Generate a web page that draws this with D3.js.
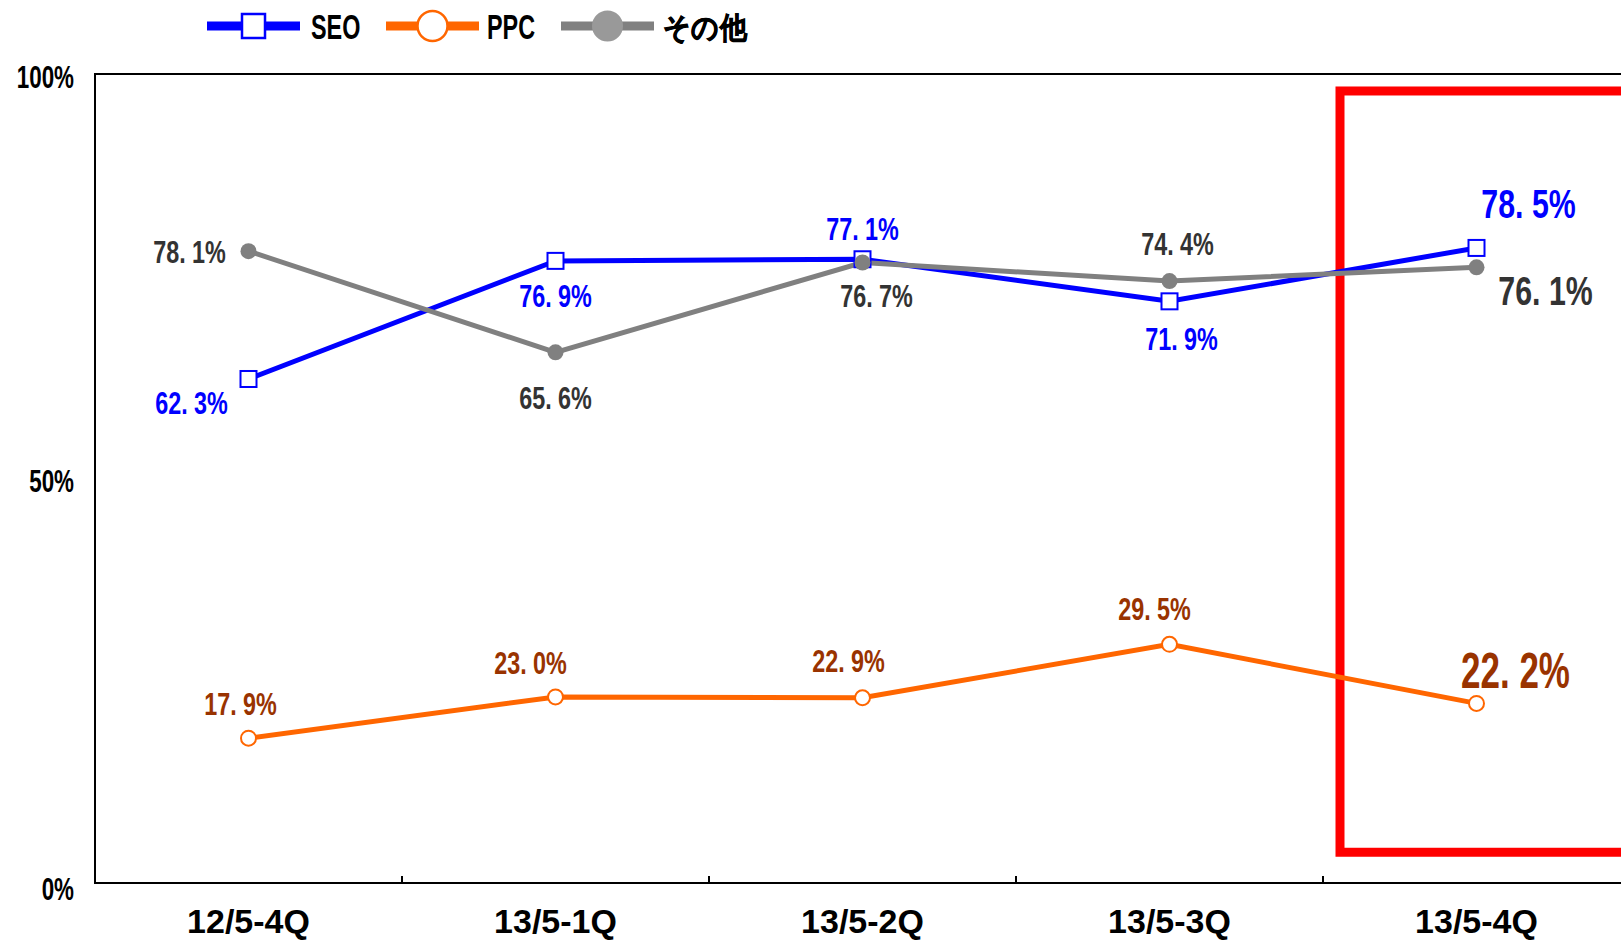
<!DOCTYPE html>
<html>
<head>
<meta charset="utf-8">
<script src="https://cdn.jsdelivr.net/npm/d3@7"></script>
<style>
  html, body { margin: 0; padding: 0; background: #fff; overflow: hidden; }
  text { font-family: "Liberation Sans", Arial, sans-serif; font-weight: bold; }
</style>
</head>
<body>
<div id="chart"></div>
<script>
// data
const categories = ['12/5-4Q', '13/5-1Q', '13/5-2Q', '13/5-3Q', '13/5-4Q'];
const seo = [62.3, 76.9, 77.1, 71.9, 78.5];
const ppc = [17.9, 23.0, 22.9, 29.5, 22.2];
const other = [78.1, 65.6, 76.7, 74.4, 76.1];
const yTicks = [0, 50, 100];
const seriesNames = ['SEO', 'PPC', 'その他'];

// layout
let width = 1621,
    height = 940,
    plotLeft = 95,
    plotTop = 74,
    plotBottom = 883,
    step = 307;

let svg = d3.select('#chart').append('svg')
    .attr('width', width)
    .attr('height', height);

let xScale = d3.scaleBand()
    .domain(categories)
    .range([plotLeft, plotLeft + step * categories.length]);

let yScale = d3.scaleLinear()
    .domain([0, 100])
    .range([plotBottom, plotTop]);

let cx = c => xScale(c) + xScale.bandwidth() / 2;

// text helper: condensed look via horizontal scale
function label(g, x, y, str, size, sx, color, anchor) {
    return g.append('text')
        .attr('transform', `translate(${x},${y}) scale(${sx},1)`)
        .attr('text-anchor', anchor || 'middle')
        .attr('dominant-baseline', 'central')
        .attr('font-size', size)
        .attr('fill', color)
        .text(str);
}

//#region axes
let plotRight = plotLeft + step * categories.length;
svg.append('path')
    .attr('d', `M${plotRight},${plotTop}H${plotLeft}V${plotBottom}H${plotRight}`)
    .attr('fill', 'none')
    .attr('stroke', '#000')
    .attr('stroke-width', 2);

let axisY = d3.axisLeft(yScale).tickValues(yTicks).tickSize(0).tickFormat(d => d + '%');
let gy = svg.append('g').attr('transform', `translate(${plotLeft},0)`).call(axisY);
gy.select('.domain').remove();
gy.selectAll('.tick text').remove();
gy.selectAll('.tick').each(function(d) {
    label(d3.select(this), -21, d === 0 ? 5 : 2, d + '%', 32, 0.7, '#000', 'end');
});

let axisX = d3.axisBottom(xScale).tickSize(0);
let gx = svg.append('g').attr('transform', `translate(0,${plotBottom})`).call(axisX);
gx.select('.domain').remove();
gx.selectAll('.tick text').remove();
gx.selectAll('.tick').each(function(d) {
    label(d3.select(this), 0, 39, d, 33, 1.03, '#000');
});

// tick marks at band boundaries
svg.selectAll('.xtick')
    .data(categories.slice(1))
    .enter().append('line')
    .attr('x1', d => xScale(d)).attr('x2', d => xScale(d))
    .attr('y1', plotBottom).attr('y2', plotBottom - 7)
    .attr('stroke', '#000').attr('stroke-width', 2);
//#endregion

//#region highlight box
let lastCat = categories[categories.length - 1];
svg.append('rect')
    .attr('x', xScale(lastCat) + 17)
    .attr('y', yScale(97.9))
    .attr('width', 400)
    .attr('height', yScale(3.8) - yScale(97.9))
    .attr('fill', 'none')
    .attr('stroke', '#ff0000')
    .attr('stroke-width', 9);
//#endregion

//#region series
let line = d3.line().x((d, i) => cx(categories[i])).y(d => yScale(d));

let series = [
    { name: 'SEO', values: seo, color: '#0000ff', labelColor: '#0000ff', marker: 'square' },
    { name: 'PPC', values: ppc, color: '#ff6600', labelColor: '#993300', marker: 'open' },
    { name: 'その他', values: other, color: '#808080', labelColor: '#333333', marker: 'dot' }
];

// label offsets from each point (layout only)
let offsets = {
    'SEO': [[-57, 24], [0, 35], [0, -30], [12, 38], [52, -44]],
    'PPC': [[-8, -34], [-25, -34], [-14, -37], [-15, -35], [39, -33]],
    'その他': [[-59, 1], [0, 46], [14, 34], [8, -37], [69, 23]]
};

series.forEach(s => {
    svg.append('path')
        .datum(s.values)
        .attr('d', line)
        .attr('fill', 'none')
        .attr('stroke', s.color)
        .attr('stroke-width', 5);
});

series.forEach(s => {
    let g = svg.append('g');
    s.values.forEach((v, i) => {
        let x = cx(categories[i]), y = yScale(v);
        if (s.marker === 'square') {
            g.append('rect').attr('x', x - 8).attr('y', y - 8).attr('width', 16).attr('height', 16)
                .attr('fill', '#fff').attr('stroke', s.color).attr('stroke-width', 2);
        } else if (s.marker === 'open') {
            g.append('circle').attr('cx', x).attr('cy', y).attr('r', 7.5)
                .attr('fill', '#fff').attr('stroke', s.color).attr('stroke-width', 2);
        } else {
            g.append('circle').attr('cx', x).attr('cy', y).attr('r', 8)
                .attr('fill', s.color);
        }
    });
});

series.forEach(s => {
    s.values.forEach((v, i) => {
        let x = cx(categories[i]), y = yScale(v);
        let off = offsets[s.name][i];
        let last = i === s.values.length - 1;
        let size = last ? (s.name === 'PPC' ? 50 : 41) : 32;
        let sx = last ? (s.name === 'PPC' ? 0.7 : 0.74) : 0.73;
        label(svg, x + off[0], y + off[1], v.toFixed(1).replace('.', '. ') + '%', size, sx, s.labelColor);
    });
});
//#endregion

//#region legend
let legendX = [207, 386, 561];
let textX = [311, 487, 663];
let legend = svg.append('g');
series.forEach((s, i) => {
    let x0 = legendX[i], x1 = x0 + 93, mx = (x0 + x1) / 2, ly = 26;
    legend.append('line').attr('x1', x0).attr('x2', x1).attr('y1', ly).attr('y2', ly)
        .attr('stroke', s.color).attr('stroke-width', 9);
    if (s.marker === 'square') {
        legend.append('rect').attr('x', mx - 11.5).attr('y', ly - 12).attr('width', 23).attr('height', 24)
            .attr('fill', '#fff').attr('stroke', s.color).attr('stroke-width', 2.5);
    } else if (s.marker === 'open') {
        legend.append('circle').attr('cx', mx).attr('cy', ly).attr('r', 15)
            .attr('fill', '#fff').attr('stroke', s.color).attr('stroke-width', 2.5);
    } else {
        legend.append('circle').attr('cx', mx).attr('cy', ly).attr('r', 15.5).attr('fill', '#999');
    }
    if (s.name === 'その他') {
        legend.append('text')
            .attr('transform', `translate(${textX[i]},${ly + 1}) scale(0.9,1)`)
            .attr('dominant-baseline', 'central')
            .attr('font-size', 30)
            .attr('font-family', '"Noto Sans CJK JP", sans-serif')
            .attr('font-weight', 'bold')
            .attr('stroke', '#000')
            .attr('stroke-width', 0.8)
            .attr('fill', '#000')
            .text(seriesNames[i]);
    } else {
        label(legend, textX[i], ly + 1, seriesNames[i], 36, 0.65, '#000', 'start');
    }
});
//#endregion
</script>
</body>
</html>
